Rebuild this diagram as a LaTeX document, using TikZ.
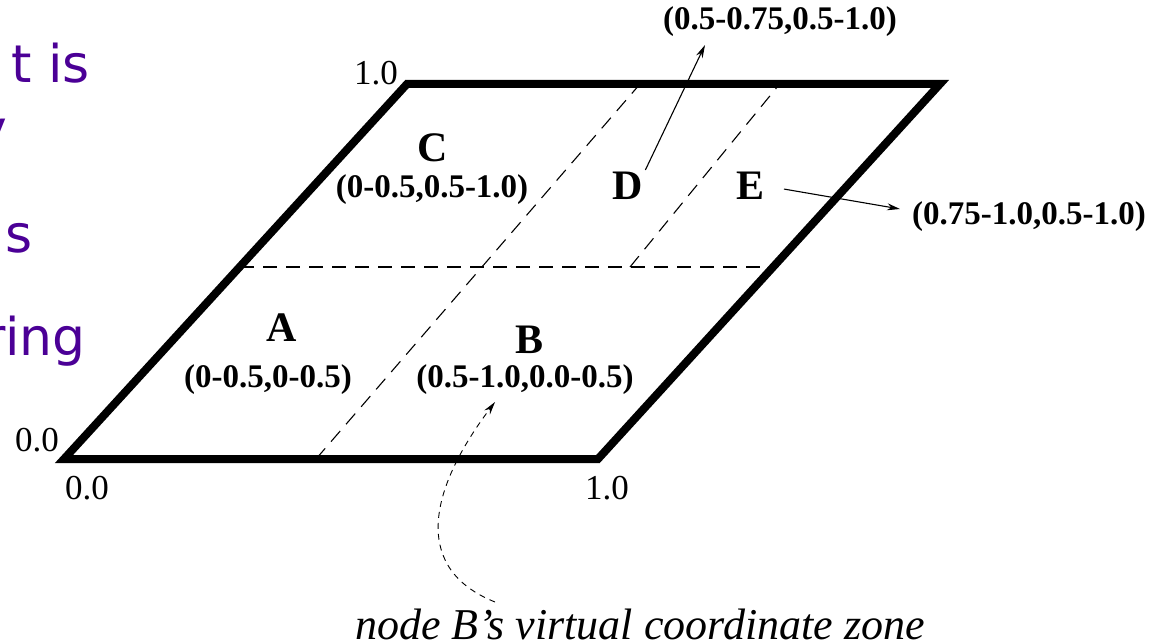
\documentclass[tikz,border=0pt]{standalone}
\usepackage{fontspec}
\usepackage{tikz}
\usetikzlibrary{arrows.meta}
\newfontfamily\slidefont{DejaVu Sans}
\newfontfamily\labelfont{Liberation Serif}
\definecolor{slidepurple}{HTML}{4B0096}
\tikzset{
  zoneframe/.style={line width=8pt,line join=miter},
  zonesplit/.style={line width=1.1pt,dash pattern=on 14pt off 9pt},
  zonetag/.style={font={\labelfont\bfseries\fontsize{33}{34}\selectfont},inner sep=2pt},
  zoneletter/.style={font={\labelfont\bfseries\fontsize{42}{42}\selectfont},inner sep=2pt},
  axisnum/.style={font={\labelfont\fontsize{35}{35}\selectfont},inner sep=0pt},
  pointer/.style={line width=1.1pt,-{Stealth[length=13pt,width=7pt]}},
  slidetext/.style={font={\slidefont\fontsize{52}{52}\selectfont},text=slidepurple,inner sep=0pt}
}

\begin{document}
\begin{tikzpicture}[x=1pt,y=-1pt]
  \useasboundingbox (0,0) rectangle (1168,644);
  \clip (0,0) rectangle (1168,644);
  % cut-off slide text
  \node[slidetext,anchor=base east] (slidea) at (90,83) {t is};
  \node[slidetext,anchor=base east] (slideb) at (7,148) {y};
  \node[slidetext,anchor=base east] (slidec) at (33,253) {s};
  \node[slidetext,anchor=base east] (slided) at (86,356) {ring};
  % coordinate space
  \draw[zonesplit] (240,267)--(775,267);
  \draw[zonesplit] (316,459)--(640,84);
  \draw[zonesplit] (630,267)--(778,86);
  \draw[zoneframe] (64,459)--(598,459)--(940,84)--(407,84)--cycle;
  \node[axisnum] (ytop) at (376,73) {1.0};
  \node[axisnum] (yzero) at (37,440) {0.0};
  \node[axisnum] (xzero) at (87,488) {0.0};
  \node[axisnum] (xone) at (607,488) {1.0};
  % zones
  \node[zoneletter] (A) at (282,328) {A};
  \node[zoneletter] (B) at (530,340) {B};
  \node[zoneletter] (C) at (433,148) {C};
  \node[zoneletter] (D) at (628,186) {D};
  \node[zoneletter] (E) at (750,186) {E};
  \node[zonetag] (Atag) at (268,380) {(0-0.5,0-0.5)};
  \node[zonetag] (Btag) at (525,380) {(0.5-1.0,0.0-0.5)};
  \node[zonetag] (Ctag) at (432,190) {(0-0.5,0.5-1.0)};
  \node[zonetag] (Dtag) at (780,22) {(0.5-0.75,0.5-1.0)};
  \node[zonetag] (Etag) at (1029,217) {(0.75-1.0,0.5-1.0)};
  \node[font={\labelfont\itshape\fontsize{44}{44}\selectfont},anchor=base] (zone) at (640,639)
    {node B’s virtual coordinate zone};
  \coordinate (dtip) at (705,45);
  \coordinate (etip) at (900,209);
  \coordinate (bfoot) at (495,602);
  \coordinate (btip) at (495,402);
  \draw[pointer] (D.north east)--(dtip);
  \draw[pointer,shorten <=18pt] (E.east)--(etip);
  \draw[pointer,line width=0.9pt,dash pattern=on 6pt off 5pt] (bfoot)
    .. controls (415,570) and (425,495) .. (btip);
\end{tikzpicture}
\end{document}
